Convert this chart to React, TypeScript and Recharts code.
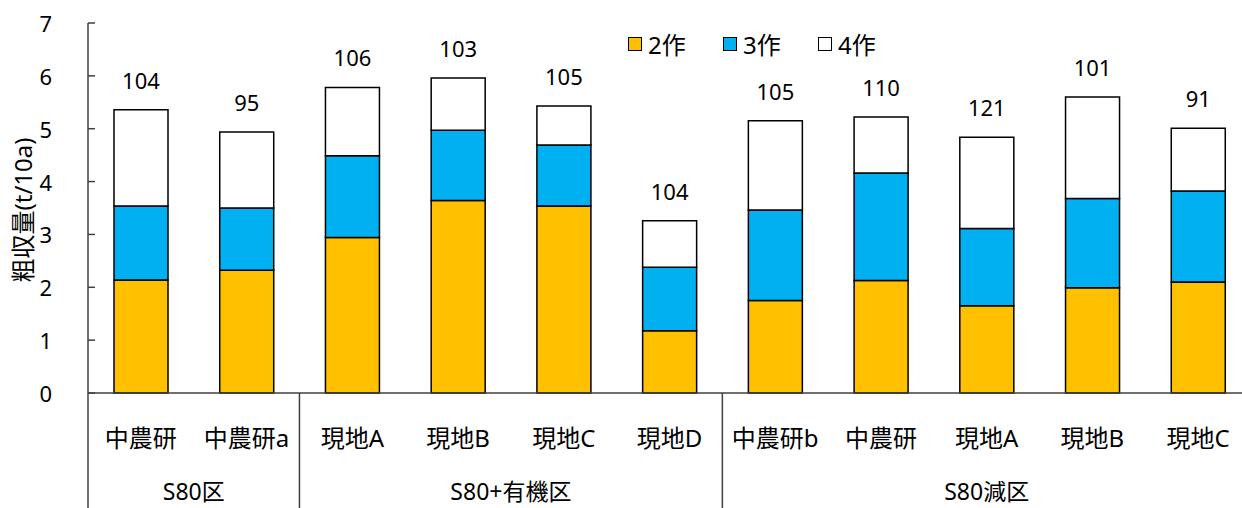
import React from 'react';
import { BarChart, Bar, XAxis, YAxis, LabelList, Legend, Label } from 'recharts';

// 試験区ごとの粗収量 (t/10a)
const sites = ['中農研', '中農研a', '現地A', '現地B', '現地C', '現地D', '中農研b', '中農研', '現地A', '現地B', '現地C'];
const plotGroups = ['S80区', 'S80+有機区', 'S80減区'];
const groupOfSite = [0, 0, 1, 1, 1, 1, 2, 2, 2, 2, 2];
const crop2 = [2.14, 2.32, 2.94, 3.64, 3.54, 1.18, 1.75, 2.13, 1.65, 1.99, 2.1];
const crop3 = [1.4, 1.18, 1.55, 1.33, 1.15, 1.2, 1.71, 2.03, 1.46, 1.69, 1.72];
const crop4 = [1.82, 1.44, 1.29, 0.99, 0.74, 0.88, 1.69, 1.06, 1.73, 1.92, 1.19];
const ratio = [104, 95, 106, 103, 105, 104, 105, 110, 121, 101, 91];
const yTicks = [0, 1, 2, 3, 4, 5, 6, 7];

const series = [
  { key: 'c2', name: '2作', color: '#FFC000' },
  { key: 'c3', name: '3作', color: '#00B0F0' },
  { key: 'c4', name: '4作', color: '#FFFFFF' },
];

const data = sites.map((site, i) => ({
  id: i,
  site,
  c2: crop2[i],
  c3: crop3[i],
  c4: crop4[i],
  ratio: ratio[i],
}));

const FONT = "'Noto Sans', 'Noto Sans CJK JP', sans-serif";
const INK = '#000';
const LINE = '#404040';

function YTick(props: any) {
  const { x, y, payload } = props;
  return (
    <g>
      <line x1={x} x2={x + 7} y1={y} y2={y} stroke={LINE} strokeWidth={1.5} />
      <text x={x - 36} y={y} textAnchor="end" dominantBaseline="central" fontSize={22} fontFamily={FONT} fill={INK}>
        {payload.value}
      </text>
    </g>
  );
}

// 試験地名の下に区分名と区切り線を描く
function SiteTick(props: any) {
  const { x, y, payload } = props;
  const i = payload.value as number;
  const half = payload.offset ?? 52.85;
  const left = x - half;
  const g = groupOfSite[i];
  const first = i === 0 || groupOfSite[i - 1] !== g;
  const members = groupOfSite.filter((v) => v === g).length;
  return (
    <g>
      <text x={x} y={y + 44} textAnchor="middle" dominantBaseline="central" fontSize={24} fontFamily={FONT} fill={INK}>
        {sites[i]}
      </text>
      {first && <line x1={left} x2={left} y1={y} y2={y + 120} stroke={LINE} strokeWidth={1.5} />}
      {first && (
        <text x={left + members * half} y={y + 98} textAnchor="middle" dominantBaseline="central" fontSize={23} fontFamily={FONT} fill={INK}>
          {plotGroups[g]}
        </text>
      )}
    </g>
  );
}

function RatioLabel(props: any) {
  const { x, y, width, value } = props;
  return (
    <text x={x + width / 2} y={y - 21} textAnchor="middle" fontSize={22} fontFamily={FONT} fill={INK}>
      {value}
    </text>
  );
}

function CropLegend() {
  return (
    <div style={{ display: 'flex', fontFamily: FONT, fontSize: 24, color: INK }}>
      {series.map((s) => (
        <div key={s.key} style={{ display: 'flex', alignItems: 'center', width: 95 }}>
          <span
            style={{
              display: 'inline-block',
              width: 12,
              height: 12,
              background: s.color,
              border: '1.5px solid #000',
              marginRight: 6,
            }}
          />
          <span>{s.name}</span>
        </div>
      ))}
    </div>
  );
}

export default function App() {
  return (
    <div style={{ position: 'absolute', left: 0, top: 0, width: 1242, height: 508, overflow: 'hidden', background: '#fff' }}>
      <BarChart width={1262} height={508} data={data} margin={{ top: 23, right: 11, left: 0, bottom: 0 }} barSize={54}>
        <XAxis
          dataKey="id"
          type="category"
          interval={0}
          height={115}
          tickSize={0}
          tickMargin={0}
          tickLine={false}
          tick={<SiteTick />}
          axisLine={{ stroke: LINE, strokeWidth: 1.5 }}
        />
        <YAxis
          domain={[0, 7]}
          ticks={yTicks}
          width={88}
          tickSize={0}
          tickMargin={0}
          tickLine={false}
          tick={<YTick />}
          axisLine={{ stroke: LINE, strokeWidth: 1.5 }}
        >
          <Label
            content={(p: any) => {
              const cy = p.viewBox.y + p.viewBox.height / 2 + 2;
              return (
                <text
                  x={22}
                  y={cy}
                  transform={`rotate(-90, 22, ${cy})`}
                  textAnchor="middle"
                  dominantBaseline="central"
                  fontSize={24}
                  fontFamily={FONT}
                  fill={INK}
                >
                  粗収量(t/10a)
                </text>
              );
            }}
          />
        </YAxis>
        <Legend
          layout="horizontal"
          verticalAlign="middle"
          align="center"
          content={<CropLegend />}
          wrapperStyle={{ top: 26, left: 628, width: 'auto' }}
        />
        {series.map((s) => (
          <Bar key={s.key} dataKey={s.key} name={s.name} stackId="yield" fill={s.color} stroke="#000" strokeWidth={1.5} isAnimationActive={false}>
            {s.key === 'c4' && <LabelList dataKey="ratio" content={<RatioLabel />} />}
          </Bar>
        ))}
      </BarChart>
    </div>
  );
}
